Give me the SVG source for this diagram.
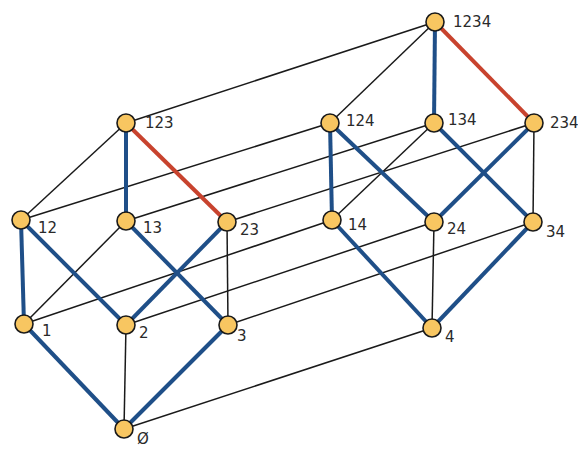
<svg xmlns="http://www.w3.org/2000/svg" width="578" height="453" viewBox="0 0 578 453">
<style>
.t{stroke:#1a1a1a;stroke-width:1.5;fill:none}
.b{stroke:#1f4f88;stroke-width:4;fill:none}
.r{stroke:#c8432e;stroke-width:4;fill:none}
.n circle{fill:#f8c661;stroke:#1a1a1a;stroke-width:1.6}
.n text{font-family:"DejaVu Sans",sans-serif;font-size:15px;fill:#2a2a2a}
</style>
<rect width="578" height="453" fill="#fff"/>
<g id="connectors">
<line class="b" x1="124" y1="429" x2="24" y2="324"/>
<line class="t" x1="124" y1="429" x2="126" y2="325"/>
<line class="b" x1="124" y1="429" x2="228" y2="325"/>
<line class="t" x1="124" y1="429" x2="432" y2="328"/>
<line class="b" x1="24" y1="324" x2="21" y2="220"/>
<line class="t" x1="24" y1="324" x2="126" y2="221"/>
<line class="t" x1="24" y1="324" x2="332" y2="220"/>
<line class="b" x1="126" y1="325" x2="21" y2="220"/>
<line class="b" x1="126" y1="325" x2="227" y2="222"/>
<line class="t" x1="126" y1="325" x2="434" y2="222"/>
<line class="b" x1="228" y1="325" x2="126" y2="221"/>
<line class="t" x1="228" y1="325" x2="227" y2="222"/>
<line class="t" x1="228" y1="325" x2="533" y2="222"/>
<line class="b" x1="432" y1="328" x2="332" y2="220"/>
<line class="t" x1="432" y1="328" x2="434" y2="222"/>
<line class="b" x1="432" y1="328" x2="533" y2="222"/>
<line class="t" x1="21" y1="220" x2="126" y2="123"/>
<line class="t" x1="21" y1="220" x2="330" y2="123"/>
<line class="b" x1="126" y1="221" x2="126" y2="123"/>
<line class="t" x1="126" y1="221" x2="434" y2="123"/>
<line class="r" x1="227" y1="222" x2="126" y2="123"/>
<line class="t" x1="227" y1="222" x2="534" y2="123"/>
<line class="b" x1="332" y1="220" x2="330" y2="123"/>
<line class="t" x1="332" y1="220" x2="434" y2="123"/>
<line class="b" x1="434" y1="222" x2="330" y2="123"/>
<line class="b" x1="434" y1="222" x2="534" y2="123"/>
<line class="b" x1="533" y1="222" x2="434" y2="123"/>
<line class="t" x1="533" y1="222" x2="534" y2="123"/>
<line class="t" x1="126" y1="123" x2="435" y2="22"/>
<line class="t" x1="330" y1="123" x2="435" y2="22"/>
<line class="b" x1="434" y1="123" x2="435" y2="22"/>
<line class="r" x1="534" y1="123" x2="435" y2="22"/>
</g>
<g id="n1234" class="n"><circle cx="435" cy="22" r="9"/><text x="453" y="27">1234</text></g>
<g id="n123" class="n"><circle cx="126" cy="123" r="9"/><text x="145" y="128">123</text></g>
<g id="n124" class="n"><circle cx="330" cy="123" r="9"/><text x="346" y="126">124</text></g>
<g id="n134" class="n"><circle cx="434" cy="123" r="9"/><text x="448" y="125">134</text></g>
<g id="n234" class="n"><circle cx="534" cy="123" r="9"/><text x="550" y="128">234</text></g>
<g id="n12" class="n"><circle cx="21" cy="220" r="9"/><text x="38" y="233">12</text></g>
<g id="n13" class="n"><circle cx="126" cy="221" r="9"/><text x="143" y="233">13</text></g>
<g id="n23" class="n"><circle cx="227" cy="222" r="9"/><text x="240" y="235">23</text></g>
<g id="n14" class="n"><circle cx="332" cy="220" r="9"/><text x="348" y="230">14</text></g>
<g id="n24" class="n"><circle cx="434" cy="222" r="9"/><text x="447" y="234">24</text></g>
<g id="n34" class="n"><circle cx="533" cy="222" r="9"/><text x="546" y="237">34</text></g>
<g id="n1" class="n"><circle cx="24" cy="324" r="9"/><text x="42" y="336">1</text></g>
<g id="n2" class="n"><circle cx="126" cy="325" r="9"/><text x="139" y="338">2</text></g>
<g id="n3" class="n"><circle cx="228" cy="325" r="9"/><text x="237" y="341">3</text></g>
<g id="n4" class="n"><circle cx="432" cy="328" r="9"/><text x="445" y="342">4</text></g>
<g id="n0" class="n"><circle cx="124" cy="429" r="9"/><text x="137" y="444">Ø</text></g>
</svg>
